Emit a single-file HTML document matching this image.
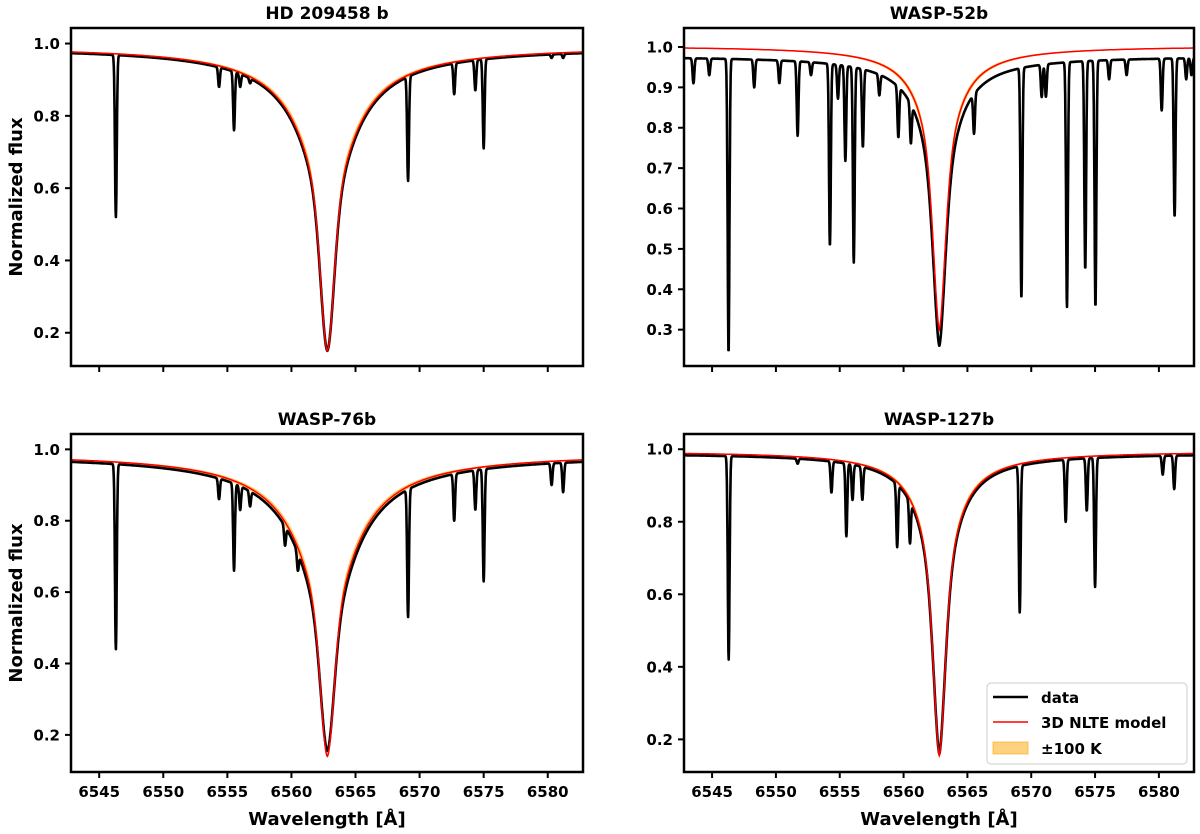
<!DOCTYPE html>
<html><head><meta charset="utf-8"><style>
html,body{margin:0;padding:0;background:#fff;}
svg{display:block;font-family:"DejaVu Sans","Liberation Sans",sans-serif;font-weight:bold;}
</style></head><body>
<svg id="fig" width="1200" height="834" viewBox="0 0 1200 834" xmlns="http://www.w3.org/2000/svg"></svg>
<script>
// ---- data ----
const xTicks = [6545, 6550, 6555, 6560, 6565, 6570, 6575, 6580];
const yTicksA = [0.2, 0.4, 0.6, 0.8, 1.0];
const yTicksB = [0.3, 0.4, 0.5, 0.6, 0.7, 0.8, 0.9, 1.0];
const titles = ["HD 209458 b", "WASP-52b", "WASP-76b", "WASP-127b"];
// profile params: [continuum, wingDepth, wingWidth, coreDepth, coreSigma]
const modelParams1 = [0.993, 0.53, 2.0, 0.313, 0.5];
const dataParams1  = [0.99, 0.54, 2.0, 0.30, 0.5];
const modelParams2 = [1.003, 0.50, 1.0, 0.203, 0.45];
const dataParams2  = [0.978, 0.52, 1.0, 0.198, 0.45];
const modelParams3 = [0.99, 0.55, 2.2, 0.30, 0.5];
const dataParams3  = [0.985, 0.57, 2.2, 0.26, 0.5];
const modelParams4 = [0.995, 0.60, 1.0, 0.24, 0.45];
const dataParams4  = [0.99, 0.61, 1.0, 0.22, 0.45];
// absorption lines: centers [Å] and minimum flux
const lines1 = [6546.3,6551.7,6554.35,6555.52,6556.0,6556.77,6559.5,6559.9,6560.5,6569.1,6572.7,6574.35,6575.0,6580.3,6581.2];
const mins1  = [0.52,0.97,0.88,0.76,0.88,0.89,0.82,0.84,0.79,0.62,0.86,0.87,0.71,0.96,0.96];
const lines2 = [6543.54,6544.78,6546.29,6548.3,6550.27,6551.7,6552.75,6554.23,6554.86,6555.44,6556.1,6556.81,6558.1,6559.59,6560.57,6565.52,6569.23,6570.82,6571.15,6572.8,6574.23,6575.03,6576.1,6577.47,6580.22,6581.23,6582.14,6582.55];
const mins2  = [0.91,0.93,0.242,0.90,0.91,0.78,0.93,0.507,0.872,0.718,0.466,0.752,0.88,0.776,0.761,0.785,0.377,0.876,0.876,0.356,0.449,0.356,0.92,0.93,0.843,0.579,0.92,0.93];
const lines3 = [6546.3,6551.7,6554.35,6555.52,6556.0,6556.77,6559.5,6560.5,6569.1,6572.7,6574.35,6575.0,6580.3,6581.2];
const mins3  = [0.44,0.95,0.86,0.66,0.83,0.84,0.73,0.66,0.53,0.80,0.83,0.63,0.90,0.88];
const lines4 = [6546.3,6551.7,6554.35,6555.52,6556.0,6556.77,6559.5,6560.5,6569.1,6572.7,6574.35,6575.0,6580.3,6581.2];
const mins4  = [0.42,0.96,0.88,0.76,0.86,0.86,0.73,0.74,0.55,0.80,0.83,0.62,0.93,0.89];
const lineCore = 6562.8;
const xDomain = [6542.8, 6582.75];

// ---- layout ----
const panels = [
  {x0:71, x1:583, y0:28, y1:366, yd:[0.108,1.043], yt:yTicksA, model:modelParams1, data:dataParams1, lc:lines1, lm:mins1, xl:false, yl:true},
  {x0:684, x1:1194, y0:28, y1:366, yd:[0.21,1.047], yt:yTicksB, model:modelParams2, data:dataParams2, lc:lines2, lm:mins2, xl:false, yl:false},
  {x0:71, x1:583, y0:434, y1:772, yd:[0.096,1.043], yt:yTicksA, model:modelParams3, data:dataParams3, lc:lines3, lm:mins3, xl:true, yl:true},
  {x0:684, x1:1194, y0:434, y1:772, yd:[0.11,1.042], yt:yTicksA, model:modelParams4, data:dataParams4, lc:lines4, lm:mins4, xl:true, yl:false}
];
const NS = "http://www.w3.org/2000/svg";
const svg = document.getElementById('fig');
function mk(tag, attrs, parent){const e=document.createElementNS(NS,tag);for(const k in attrs)e.setAttribute(k,attrs[k]);(parent||svg).appendChild(e);return e;}
function profile(p, l){const d=Math.abs(l-lineCore);return p[0]-p[1]/(1+Math.pow(d/p[2],1.5))-p[3]*Math.exp(-d*d/(2*p[4]*p[4]));}
function dataFlux(P, l){
  let f=profile(P.data,l);
  for(let i=0;i<P.lc.length;i++){
    const base=profile(P.data,P.lc[i]);
    const dep=Math.max(0,1-P.lm[i]/base);
    const z=(l-P.lc[i])/0.07;
    f*=1-dep*Math.exp(-z*z/2);
  }
  return f;
}
panels.forEach((P,pi)=>{
  const g=mk('g',{});
  
  
  const sx=l=>P.x0+(l-xDomain[0])/(xDomain[1]-xDomain[0])*(P.x1-P.x0);
  const sy=v=>P.y1-(v-P.yd[0])/(P.yd[1]-P.yd[0])*(P.y1-P.y0);
  const cid='clip'+pi;
  const cp=mk('clipPath',{id:cid},g);mk('rect',{x:P.x0,y:P.y0,width:P.x1-P.x0,height:P.y1-P.y0},cp);
  const step=0.02;
  let up=[],lo=[],mod=[],dat=[];
  const dA=P.model[1]*0.05;
  const mu=[P.model[0],P.model[1]-dA,P.model[2],P.model[3]+dA*0.9,P.model[4]];
  const mlo=[P.model[0],P.model[1]+dA,P.model[2],P.model[3]-dA*0.9,P.model[4]];
  for(let l=xDomain[0];l<=xDomain[1]+1e-9;l+=step){
    up.push([sx(l),sy(profile(mu,l))]);lo.push([sx(l),sy(profile(mlo,l))]);
    mod.push(sx(l).toFixed(1)+','+sy(profile(P.model,l)).toFixed(1));
    dat.push(sx(l).toFixed(1)+','+sy(dataFlux(P,l)).toFixed(1));
  }
  const band=mk('polygon',{points:up.concat(lo.reverse()).map(p=>p[0].toFixed(1)+','+p[1].toFixed(1)).join(' '),fill:'rgba(255,165,0,0.5)',stroke:'rgba(255,165,0,0.5)','stroke-width':1,'clip-path':'url(#'+cid+')'},g);
  
  
  const dl=mk('polyline',{points:dat.join(' '),fill:'none',stroke:'#000','stroke-width':2.6,'stroke-linejoin':'round','clip-path':'url(#'+cid+')'},g);
  
  
  const ml=mk('polyline',{points:mod.join(' '),fill:'none',stroke:'#ff0000','stroke-width':1.5,'clip-path':'url(#'+cid+')'},g);
  
  
  const fr=mk('rect',{x:P.x0,y:P.y0,width:P.x1-P.x0,height:P.y1-P.y0,fill:'none',stroke:'#000','stroke-width':2.5},g);
  
  
  xTicks.forEach(t=>{
    const x=sx(t);
    const tk=mk('line',{x1:x,x2:x,y1:P.y1,y2:P.y1+6,stroke:'#000','stroke-width':2},g);
    
    
    if(P.xl){const tl=mk('text',{x:x,y:P.y1+25,'text-anchor':'middle','font-size':15},g);tl.textContent=t;
      
      }
  });
  P.yt.forEach(t=>{
    const y=sy(t);
    const tk=mk('line',{x1:P.x0-6,x2:P.x0,y1:y,y2:y,stroke:'#000','stroke-width':2},g);
    
    
    const tl=mk('text',{x:P.x0-11,y:y+5.5,'text-anchor':'end','font-size':15},g);tl.textContent=t.toFixed(1);
    
    
  });
  const tt=mk('text',{x:(P.x0+P.x1)/2,y:P.y0-9,'text-anchor':'middle','font-size':17},g);tt.textContent=titles[pi];
  
  
  if(P.xl){const xl=mk('text',{x:(P.x0+P.x1)/2,y:825,'text-anchor':'middle','font-size':18},g);xl.textContent='Wavelength [Å]';
    
    }
  if(P.yl){const cy=(P.y0+P.y1)/2;const yl=mk('text',{x:22,y:cy,'text-anchor':'middle','font-size':18,transform:'rotate(-90 22 '+cy+')'},g);yl.textContent='Normalized flux';
    
    }
});
// legend
const lg=mk('g',{});


mk('rect',{x:987,y:683,width:200,height:81,rx:4,fill:'#fff','fill-opacity':0.85,stroke:'#ccc','stroke-width':1},lg);
const e1=mk('line',{x1:993,x2:1028,y1:697,y2:697,stroke:'#000','stroke-width':2.6},lg);


const t1=mk('text',{x:1041,y:703,'font-size':15},lg);t1.textContent='data';
const e2=mk('line',{x1:993,x2:1028,y1:722,y2:722,stroke:'#ff0000','stroke-width':1.5},lg);


const t2=mk('text',{x:1041,y:728,'font-size':15},lg);t2.textContent='3D NLTE model';
const e3=mk('rect',{x:993,y:742,width:35,height:12,fill:'rgba(255,165,0,0.5)',stroke:'rgba(255,165,0,0.6)'},lg);


const t3=mk('text',{x:1041,y:754,'font-size':15},lg);t3.textContent='±100 K';
</script>
</body></html>
